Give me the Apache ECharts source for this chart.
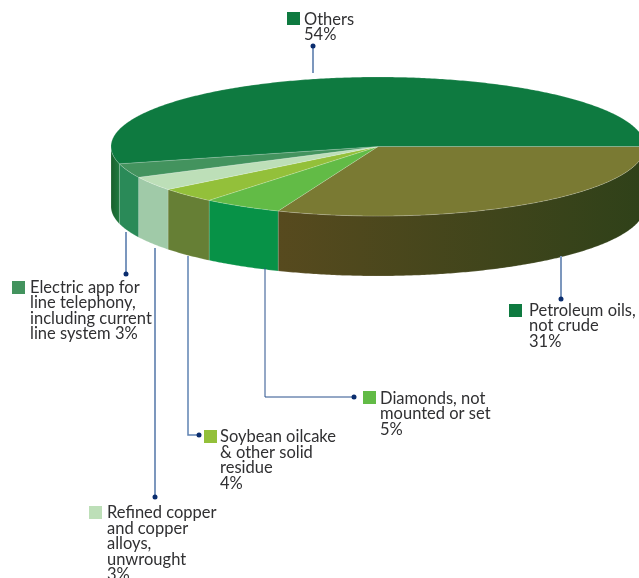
<!DOCTYPE html>
<html>
<head>
<meta charset="utf-8">
<style>html,body{margin:0;padding:0;background:#fff;overflow:hidden}#c{width:639px;height:578px}</style>
<script src="https://cdn.jsdelivr.net/npm/echarts@6/dist/echarts.min.js"></script>
</head>
<body>
<div id="c"></div>
<script>
// Data, clockwise from the 3 o'clock seam
const categories = ['Petroleum oils,\nnot crude','Diamonds, not\nmounted or set','Soybean oilcake\n& other solid\nresidue','Refined copper\nand copper\nalloys,\nunwrought','Electric app for\nline telephony,\nincluding current\nline system','Others'];
const values = [31.1, 4.8, 3.5, 3.3, 3.3, 54];
const percentSeparators = ['\n','\n','\n','\n',' ','\n'];

// Colours
const topColors = ['#7a7a33','#62bb46','#93c03a','#bddfb8','#43935e','#0e7a40'];
const sideStart = ['#574a1e','#079247','#667f35','#a0caa8','#2a8a58','#1a5f2c'];
const sideEnd   = ['#2f4119','#079247','#667f35','#a0caa8','#2a8a58','#1f7a3f'];
const keyColors = ['#0e7a40','#62bb46','#93c03a','#bddfb8','#43935e','#0e7a40'];

// Layout
const pie = {cx:378, cy:146.5, rx:267, ry:69.5, depth:60};
const labelLayout = [
  {sq:[509,304], tx:529, ty:302.5, line:[[561,256],[561,299]], w:2, c:'#7c97bd'},
  {sq:[363,391], tx:380, ty:390.5, line:[[265,268],[265,397],[354,397]], w:1, c:'#28508c'},
  {sq:[204,430], tx:220, ty:429, line:[[188,256],[188,435],[199,435]], w:1.5, c:'#5f82b2'},
  {sq:[89,506], tx:107, ty:505, line:[[155,248],[155,497]], w:2, c:'#7c97bd'},
  {sq:[12,281], tx:30, ty:279.5, line:[[126,232],[126,274]], w:1.5, c:'#4f74a8'},
  {sq:[287,12], tx:304, ty:11.5, line:[[313,73],[313,46]], w:2, c:'#7c97bd'}
];
const textFont = '16.5px Lato';
const textLine = 15.5;
const textColor = '#303032';
const dotColor = '#0a2d6e';

const total = values.reduce((a,b)=>a+b,0);
const starts = [];
values.reduce((a,v,i)=>{starts[i]=a;return a+v;},0);
const rows = values.map((v,i)=>[v, starts[i], i]);

const rim = (t,dy)=>[pie.cx+pie.rx*Math.cos(t), pie.cy+pie.ry*Math.sin(t)+(dy||0)];
const arc = (a,b,dy)=>{
  const n=Math.max(2,Math.ceil((b-a)/0.01)), out=[];
  for(let k=0;k<=n;k++) out.push(rim(a+(b-a)*k/n,dy));
  return out;
};

function renderSlice(params, api){
  const i=params.dataIndex;
  const a=api.value(1)/total*2*Math.PI;
  const b=(api.value(1)+api.value(0))/total*2*Math.PI;
  const children=[];
  // Visible wall: the part of the rim on the front half
  const sa=Math.max(a,0), sb=Math.min(b,Math.PI);
  if(sb>sa){
    const upper=arc(sa,sb,0), lower=arc(sa,sb,pie.depth).reverse();
    const x0=upper[0][0], x1=upper[upper.length-1][0];
    children.push({type:'polygon',shape:{points:upper.concat(lower)},
      style:{fill:new echarts.graphic.LinearGradient(x0,0,x1,0,
        [{offset:0,color:sideEnd[i]},{offset:1,color:sideStart[i]}],true),
        stroke:'rgba(255,255,255,0.3)',lineWidth:0.5}});
  }
  children.push({type:'polygon',shape:{points:[[pie.cx,pie.cy]].concat(arc(a,b,0))},
    style:{fill:topColors[i],stroke:'rgba(255,255,255,0.35)',lineWidth:0.5}});
  return {type:'group',children};
}

function renderLabel(params, api){
  const i=params.dataIndex, L=labelLayout[i];
  const end=L.line[L.line.length-1];
  const pct=Math.round(api.value(0))+'%';
  return {type:'group',children:[
    {type:'polyline',shape:{points:L.line},style:{fill:null,stroke:L.c,lineWidth:L.w}},
    {type:'circle',shape:{cx:end[0],cy:end[1],r:2.5},style:{fill:dotColor}},
    {type:'rect',shape:{x:L.sq[0],y:L.sq[1],width:13,height:13},style:{fill:keyColors[i]}},
    {type:'text',x:L.tx,y:L.ty,style:{text:categories[i]+percentSeparators[i]+pct,font:textFont,lineHeight:textLine,fill:textColor,align:'left',verticalAlign:'top'}}
  ]};
}

const chart=echarts.init(document.getElementById('c'),null,{renderer:'canvas'});
chart.setOption({
  animation:false,
  backgroundColor:'#fff',
  tooltip:{show:false},
  series:[
    {type:'custom',coordinateSystem:'none',renderItem:renderSlice,data:rows,silent:true},
    {type:'custom',coordinateSystem:'none',renderItem:renderLabel,data:rows,silent:true,z:3}
  ]
});
</script>
</body>
</html>
